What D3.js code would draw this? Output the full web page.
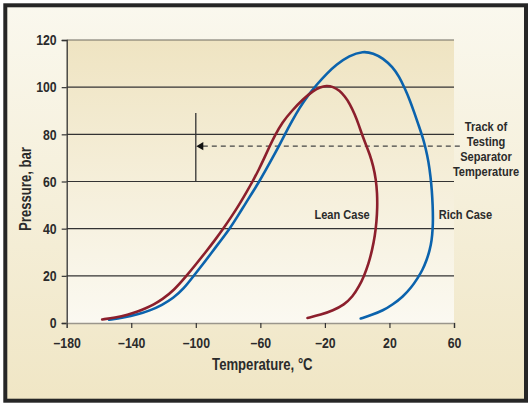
<!DOCTYPE html>
<html>
<head>
<meta charset="utf-8">
<script src="https://cdn.jsdelivr.net/npm/d3@7"></script>
<style>
  html, body { margin: 0; padding: 0; background: #ffffff; }
  svg { display: block; }
  text { font-family: "Liberation Sans", Arial, sans-serif; font-weight: bold; fill: #2b2b2b; }
</style>
</head>
<body>
<svg id="chart" width="530" height="404"></svg>
<script>
// Phase envelopes: temperature (°C) and pressure (bar) along each curve
const leanTemp = [-158, -150, -142, -136.5, -131.5, -126, -121, -113.5, -106, -100, -94.2, -88.5, -83, -78, -73.3, -69, -64.8, -61, -57.5, -54.2, -51, -46.5, -40.5, -33.5, -27, -23, -19, -15, -11, -7.5, -4.6, -1.5, 1, 3.2, 5.5, 7.8, 10, 11.6, 12.4, 12.5, 12, 11, 9.3, 7, 4.3, 1.2, -3, -8, -15, -22.5, -30.8];
const leanPres = [1.5, 2.3, 3.5, 4.7, 6.1, 7.9, 9.9, 13.9, 19.8, 24.8, 29.8, 34.8, 40, 45, 50, 55, 60, 65, 70, 75, 79.5, 85, 90, 95, 98.6, 100, 100.7, 100.2, 98.6, 96, 93, 88.5, 84, 79.5, 75.5, 71.5, 66.5, 61, 55, 49, 43, 37, 31, 25, 20, 15.5, 11, 7.8, 5.3, 3.5, 2.1];

const richTemp = [-153.8, -145, -136, -128, -121, -114, -107.5, -101.3, -95.5, -90, -84.5, -79, -74.3, -69.8, -65.2, -60.7, -56.5, -52.5, -48.5, -44.8, -40.5, -35.5, -30.5, -25.2, -19, -12.8, -5, 3.7, 10, 16, 22, 26, 29.5, 32.6, 35.5, 38, 40.5, 42.5, 44.2, 45.5, 46.3, 46.8, 47, 46.8, 46.2, 45, 43, 40.5, 37.5, 33.5, 28.4, 22, 16, 9, 2.2];
const richPres = [1.4, 2.3, 3.6, 5.4, 7.6, 10.5, 14.5, 20, 25, 30, 35, 40, 45, 50, 55, 60, 65, 70, 75, 80, 85.5, 91.5, 96.5, 101, 105.7, 109.6, 113.4, 115.3, 114.4, 112.3, 108.5, 104.5, 99.5, 94.6, 89, 84, 79, 74, 68.5, 62, 56, 50, 44, 40, 35, 31, 26.5, 22.5, 19, 15, 11.2, 7.8, 5.3, 3.4, 1.9];

const xTicks = [-180, -140, -100, -60, -20, 20, 60];
const yTicks = [0, 20, 40, 60, 80, 100, 120];

// Testing separator temperature track
const trackPressure = 75;
const trackTemps = [-100, 64.5];
const markerTemp = -100;
const markerPres = [60, 89];

const plot = { left: 66.7, right: 454, top: 40, bottom: 323 };
const NARROW = 0.82; // horizontal squeeze for condensed lettering

const svg = d3.select("#chart");
const defs = svg.append("defs");

const bgGrad = defs.append("linearGradient").attr("id", "bgGrad")
  .attr("x1", 0).attr("y1", 0).attr("x2", 0).attr("y2", 1);
bgGrad.append("stop").attr("offset", "0%").attr("stop-color", "#faf8ee");
bgGrad.append("stop").attr("offset", "100%").attr("stop-color", "#f0e6c5");

const plotGrad = defs.append("linearGradient").attr("id", "plotGrad")
  .attr("x1", 0).attr("y1", 0).attr("x2", 0).attr("y2", 1);
plotGrad.append("stop").attr("offset", "0%").attr("stop-color", "#efe4c2");
plotGrad.append("stop").attr("offset", "100%").attr("stop-color", "#fbf9f1");

// Panel background and frame
svg.append("rect")
  .attr("x", 5.3).attr("y", 5.3).attr("width", 520.7).attr("height", 395.4)
  .attr("fill", "url(#bgGrad)")
  .attr("stroke", "#262626").attr("stroke-width", 4);

const x = d3.scaleLinear().domain([-180, 60]).range([plot.left, plot.right]);
const y = d3.scaleLinear().domain([0, 120]).range([plot.bottom, plot.top]);

// Plot area fill
svg.append("rect")
  .attr("x", plot.left).attr("y", plot.top)
  .attr("width", plot.right - plot.left).attr("height", plot.bottom - plot.top)
  .attr("fill", "url(#plotGrad)");

// Horizontal grid lines
svg.append("g").selectAll("line")
  .data(yTicks.filter(d => d > 0))
  .join("line")
  .attr("x1", plot.left).attr("x2", plot.right)
  .attr("y1", d => y(d)).attr("y2", d => y(d))
  .attr("stroke", d => d === 120 ? "#6e6a60" : "#333333")
  .attr("stroke-width", 1.2);

// Y axis
const yAxis = d3.axisLeft(y).tickValues(yTicks).tickSize(5).tickPadding(7.2)
  .tickFormat(d => d);
const gy = svg.append("g").attr("transform", `translate(${plot.left},0)`).call(yAxis);
gy.select(".domain").attr("stroke", "#333").attr("stroke-width", 1.3);
gy.selectAll(".tick line").attr("stroke", "#333").attr("stroke-width", 1.2);

// X axis
const fmtX = d => (d < 0 ? "\u2013" + Math.abs(d) : String(d));
const xAxis = d3.axisBottom(x).tickValues(xTicks).tickSize(5).tickPadding(9.6)
  .tickFormat(fmtX);
const gx = svg.append("g").attr("transform", `translate(0,${plot.bottom})`).call(xAxis);
gx.select(".domain").attr("stroke", "#9a968c").attr("stroke-width", 1.6);
gx.selectAll(".tick line").attr("stroke", "#333").attr("stroke-width", 1.2);

svg.selectAll("g[font-family]").attr("font-family", null).attr("font-size", null);
svg.selectAll(".tick text")
  .attr("font-size", 15).attr("fill", "#2b2b2b")
  .attr("transform", `scale(${NARROW},1)`);

// Condensed text helper
function label(px, py, str, size, anchor, rotate) {
  const g = svg.append("g")
    .attr("transform", `translate(${px},${py})` + (rotate ? ` rotate(${rotate})` : "") + ` scale(${NARROW},1)`);
  return g.append("text")
    .attr("text-anchor", anchor).attr("font-size", size)
    .text(str);
}

// Axis titles
label((plot.left + plot.right) / 2 + 2, 370, "Temperature, \u00b0C", 16, "middle");
label(31, 189, "Pressure, bar", 16, "middle", -90);

// Separator temperature track: vertical marker, dashed line and arrowhead
svg.append("line")
  .attr("x1", x(markerTemp)).attr("x2", x(markerTemp))
  .attr("y1", y(markerPres[0])).attr("y2", y(markerPres[1]))
  .attr("stroke", "#333").attr("stroke-width", 1.3);

svg.append("line")
  .attr("x1", x(trackTemps[0]) + 7).attr("x2", x(trackTemps[1]))
  .attr("y1", y(trackPressure)).attr("y2", y(trackPressure))
  .attr("stroke", "#444").attr("stroke-width", 1.3)
  .attr("stroke-dasharray", "5,4");

const tipX = x(trackTemps[0]) + 0.5, tipY = y(trackPressure);
svg.append("path")
  .attr("d", `M${tipX},${tipY} L${tipX + 7},${tipY - 4.2} L${tipX + 7},${tipY + 4.2} Z`)
  .attr("fill", "#111");

// Phase envelope curves (smoothed B-spline through the traced points)
const line = d3.line()
  .x(d => x(d[0])).y(d => y(d[1]))
  .curve(d3.curveBasis);

svg.append("path")
  .datum(d3.zip(richTemp, richPres))
  .attr("d", line)
  .attr("fill", "none").attr("stroke", "#0b63ad").attr("stroke-width", 2.6)
  .attr("stroke-linecap", "round");

svg.append("path")
  .datum(d3.zip(leanTemp, leanPres))
  .attr("d", line)
  .attr("fill", "none").attr("stroke", "#8c1f2c").attr("stroke-width", 2.6)
  .attr("stroke-linecap", "round");

// Curve labels
label(x(7.8), y(44), "Lean Case", 13.5, "end");
label(x(50.5), y(44), "Rich Case", 13.5, "start");

const noteLines = ["Track of", "Testing", "Separator", "Temperature"];
noteLines.forEach((t, i) => label(486, 130.7 + i * 15, t, 13.5, "middle"));
</script>
</body>
</html>
